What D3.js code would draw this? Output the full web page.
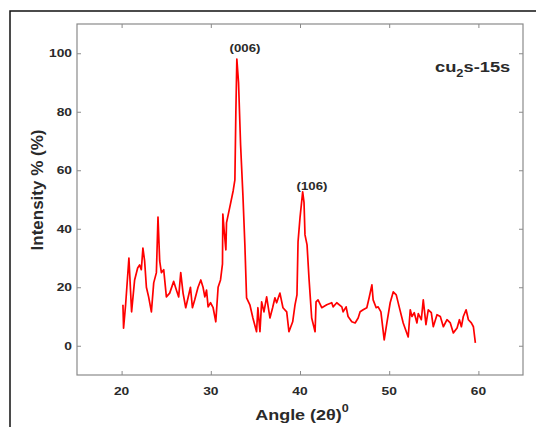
<!DOCTYPE html>
<html><head><meta charset="utf-8">
<script src="https://cdn.jsdelivr.net/npm/d3@7"></script>
<style>body{margin:0;background:#fff}svg{display:block}</style>
</head><body><div id="chart"></div>
<script>
const angles = [20.15,20.22,20.45,20.82,21.12,21.46,21.80,22.02,22.21,22.39,22.58,22.78,23.03,23.34,23.60,23.90,24.08,24.27,24.46,24.72,25.02,25.39,25.84,26.15,26.40,26.63,26.89,27.19,27.45,27.72,27.94,28.20,28.57,28.88,29.13,29.33,29.52,29.70,29.97,30.26,30.56,30.82,31.09,31.31,31.35,31.49,31.69,31.76,32.13,32.51,32.70,32.81,32.92,33.11,33.34,33.60,33.82,34.01,34.38,34.72,35.13,35.28,35.51,35.70,35.96,36.26,36.63,36.93,37.19,37.38,37.75,38.09,38.51,38.76,39.18,39.44,39.66,39.78,40.00,40.30,40.45,40.56,40.79,41.01,41.31,41.69,41.80,42.02,42.44,43.00,43.56,43.71,44.12,44.69,44.83,45.17,45.39,45.81,46.18,46.52,46.74,47.08,47.49,47.75,48.06,48.20,48.54,48.76,49.07,49.44,49.74,50.11,50.45,50.79,51.12,51.57,52.13,52.36,52.55,52.81,53.11,53.26,53.60,53.82,54.12,54.38,54.72,54.94,55.36,55.73,56.07,56.48,56.85,57.19,57.61,57.87,58.09,58.31,58.62,58.88,59.21,59.44,59.66];
const intensity = [14,6,14,30,11.6,22.5,26.6,27.6,26,33.4,29,20,16.7,11.6,21.5,25,44,29,25,26,16.7,18,22,19,16.7,25,18,13,16.4,20,13,15.7,20,22.5,20,16.7,19,13.3,14.7,13,8.2,20,22.5,28,45,39.6,32.8,42,47.4,53,56.7,80,98,90,68.6,51.5,34.5,16.4,14,9.5,4.8,13,4.8,15,11.6,16.7,9.5,13,16.4,14.7,18,13,11.6,4.8,8.2,14,17.4,35.5,43.7,52.6,49,37.9,34.5,23,9.5,4.8,15,15.7,13,14,14.7,13.3,14.7,13.3,11.6,13.3,10,8.2,7.8,9.5,11.6,12.3,13,16.4,20.8,15.7,13,13.3,11.6,2,7.8,14.7,18.4,17.4,13.3,7.8,3,12.3,10,11.3,7.8,11,8.9,15.7,7.2,12.3,11.3,6.5,10.6,10,6.5,8.9,7.8,4.4,6.1,8.9,6.5,10,12.3,8.9,7.8,6.5,1];
const xTicks = [20,30,40,50,60];
const yTicks = [0,20,40,60,80,100];
const peakLabels = ["(006)","(106)"];
const peakAngles = [32.92,40.30];
const peakValues = [98,52.6];

const W=536,H=427;
const svg=d3.select("#chart").append("svg").attr("width",W).attr("height",H);
svg.append("rect").attr("x",10).attr("y",11).attr("width",540).attr("height",430)
  .attr("fill","none").attr("stroke","#111").attr("stroke-width",1.5);

const m={l:77,r:523,t:24,b:375};
const x=d3.scaleLinear().domain([15,65]).range([m.l,m.r]);
const y=d3.scaleLinear().domain([-10,110]).range([m.b,m.t]);
const axisCol="#8a8a8a", txtCol="#2a2a2a";
const font="'Liberation Sans',Arial,sans-serif";

svg.append("rect").attr("x",m.l).attr("y",m.t).attr("width",m.r-m.l).attr("height",m.b-m.t)
  .attr("fill","none").attr("stroke",axisCol).attr("stroke-width",1.2);

function styleAxis(g){
  g.select(".domain").remove();
  g.selectAll("line").attr("stroke",axisCol);
  g.selectAll("text").remove();
}
svg.append("g").attr("transform",`translate(0,${m.b})`)
  .call(d3.axisBottom(x).tickValues(xTicks).tickSize(-4)).call(styleAxis);
svg.append("g").attr("transform",`translate(0,${m.t})`)
  .call(d3.axisTop(x).tickValues(xTicks).tickSize(-4)).call(styleAxis);
svg.append("g").attr("transform",`translate(${m.l},0)`)
  .call(d3.axisLeft(y).tickValues(yTicks).tickSize(-4)).call(styleAxis);
svg.append("g").attr("transform",`translate(${m.r},0)`)
  .call(d3.axisRight(y).tickValues(yTicks).tickSize(-4)).call(styleAxis);

function addText(px,py,size,anchor,sx,rot){
  return svg.append("text")
    .attr("transform",`translate(${px},${py}) rotate(${rot||0}) scale(${sx},1)`)
    .attr("text-anchor",anchor).attr("fill",txtCol)
    .style("font-family",font).style("font-size",size+"px").style("font-weight","bold");
}
xTicks.forEach(v=>addText(x(v),395,11.5,"middle",1.2).text(v));
yTicks.forEach(v=>addText(72,y(v)+4,11.5,"end",1.2).text(v));

const line=d3.line().x((d,i)=>x(angles[i])).y(d=>y(d));
svg.append("path").datum(intensity).attr("d",line).attr("fill","none")
  .attr("stroke","#ff0000").attr("stroke-width",1.7).attr("stroke-linejoin","round");

const labX=[245,312], labY=[52,190];
peakLabels.forEach((t,i)=>addText(labX[i],labY[i],11.5,"middle",1.15).text(t));

const lab=addText(435,72,15,"start",1.22);
lab.append("tspan").text("cu");
lab.append("tspan").attr("dy",5).style("font-size","10.5px").text("2");
lab.append("tspan").attr("dy",-5).text("s-15s");

const xt=addText(302,420,15,"middle",1.2);
xt.append("tspan").text("Angle (2θ)");
xt.append("tspan").attr("dy",-8).style("font-size","10.5px").text("0");

addText(43,190,17,"middle",1,-90).text("Intensity % (%)");
</script></body></html>
